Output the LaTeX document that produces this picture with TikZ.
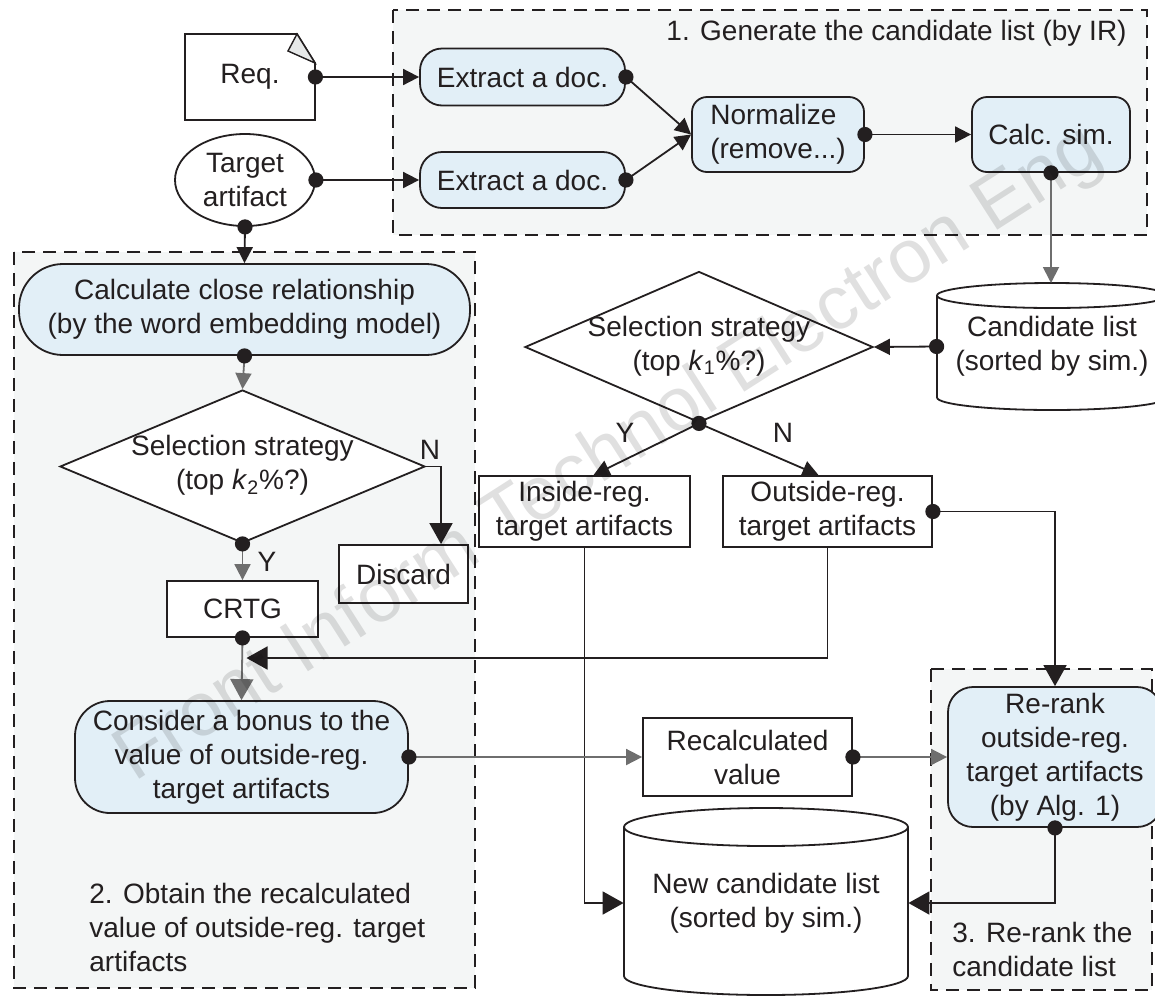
\documentclass[tikz,border=0pt]{standalone}
\usepackage{fontspec}
\setmainfont{Liberation Sans}
\usetikzlibrary{arrows.meta,shapes.geometric}
\definecolor{linec}{HTML}{231F20}
\definecolor{graylinec}{HTML}{6E6E6E}
\definecolor{boxblue}{HTML}{E2EFF7}
\definecolor{regfill}{HTML}{F4F6F6}
\definecolor{foldc}{HTML}{E6E8E8}
\newcommand\dfont{\fontsize{14}{17}\selectfont}
\tikzset{
  txt/.style={font=\dfont, text=linec, inner sep=0pt, align=center},
  box/.style={txt, draw=linec, line width=0.9pt, fill=white},
  bluebox/.style={box, fill=boxblue},
  region/.style={draw=linec, line width=0.9pt, dash pattern=on 6.5pt off 4pt, fill=regfill},
  conn/.style={draw=linec, line width=0.9pt, -{Triangle[length=8pt,width=8pt]}},
  bigconn/.style={draw=linec, line width=0.9pt, -{Triangle[length=10.5pt,width=11.5pt]}},
  grayconn/.style={conn, draw=graylinec},
  graybig/.style={bigconn, draw=graylinec},
  dotc/.style={fill=linec},
}
\begin{document}
\begin{tikzpicture}[x=0.5pt, y=-0.5pt]
\useasboundingbox (0,0) rectangle (1155,997);
\clip (0,0) rectangle (1155,997);
\fill[white] (0,0) rectangle (1155,997);

% regions
\path[region] (393,10) rectangle (1147,235);
\path[region] (14,252) rectangle (475,988);
\path[region] (931,669) rectangle (1152,990);

\node[txt, anchor=east] (t1) at (1127,33) {1. Generate the candidate list (by IR)};
\node[txt, anchor=west, align=left] (t2) at (89,927) {2. Obtain the recalculated\\value of outside-reg. target\\artifacts};
\node[txt, anchor=west, align=left] (t3) at (952,949.5) {3. Re-rank the\\candidate list};

% requirement document
\draw[line width=0.9pt, draw=linec, fill=white] (185,34) -- (297,34) -- (315,63) -- (315,120) -- (185,120) -- cycle;
\draw[line width=0.7pt, draw=linec, fill=foldc] (297,34) -- (288,51) -- (315,63) -- cycle;
\node[txt, minimum width=65pt, minimum height=43pt] (req) at (250,77) {Req.};

\node[box, ellipse, minimum width=70pt, minimum height=46pt] (target) at (245,180) {Target\\artifact};

\node[bluebox, rounded corners=11pt, minimum width=102.5pt, minimum height=28.5pt] (ex1) at (522.5,77) {Extract a doc.};
\node[bluebox, rounded corners=11pt, minimum width=102.5pt, minimum height=28pt] (ex2) at (522.5,180) {Extract a doc.};
\node[bluebox, rounded corners=7.5pt, minimum width=86pt, minimum height=37.5pt, align=left] (norm) at (778,134.5) {Normalize\\(remove...)};
\node[bluebox, rounded corners=7.5pt, minimum width=79pt, minimum height=37.5pt] (calc) at (1051,134.5) {Calc. sim.};

% candidate list cylinder
\draw[line width=0.9pt, draw=linec, fill=white] (937,295.5) -- (937,397.5) arc[start angle=180, end angle=360, x radius=57.5pt, y radius=6.25pt] -- (1167,295.5);
\draw[line width=0.9pt, draw=linec, fill=white] (1052,295.5) ellipse[x radius=57.5pt, y radius=6.25pt];
\node[txt, minimum width=115pt, minimum height=63.5pt] (cand) at (1052,346.5) {Candidate list\\(sorted by sim.)};

% decision 1
\node[box, diamond, minimum width=174pt, minimum height=75.5pt] (dia1) at (699,347) {};
\node[txt] (dia1t) at (699,346) {Selection strategy\\(top \textit{k}\textsubscript{1}\%?)};

\node[box, minimum width=105.5pt, minimum height=35.5pt] (ins) at (584.5,511.5) {Inside-reg.\\target artifacts};
\node[box, minimum width=104.5pt, minimum height=35.5pt] (outs) at (827.5,511.5) {Outside-reg.\\target artifacts};

% left column
\node[bluebox, rounded corners=22pt, minimum width=225.5pt, minimum height=45.5pt] (calcrel) at (244.5,309.5) {Calculate close relationship\\(by the word embedding model)};
\node[box, diamond, minimum width=182.5pt, minimum height=76.5pt] (dia2) at (242.5,466.5) {};
\node[txt] (dia2t) at (242.5,465.5) {Selection strategy\\(top \textit{k}\textsubscript{2}\%?)};
\node[box, minimum width=64.5pt, minimum height=29pt] (discard) at (403.5,574) {Discard};
\node[box, minimum width=75.5pt, minimum height=28pt] (crtg) at (242.5,609) {CRTG};
\node[bluebox, rounded corners=17.5pt, minimum width=166.5pt, minimum height=56pt] (consider) at (241.5,757) {Consider a bonus to the\\value of outside-reg.\\target artifacts};

\node[box, minimum width=104.5pt, minimum height=39pt] (recalc) at (747.5,757) {Recalculated\\value};
\node[bluebox, rounded corners=12.5pt, minimum width=107pt, minimum height=70pt] (rerank) at (1055,757) {Re-rank\\outside-reg.\\target artifacts\\(by Alg. 1)};

% new candidate list cylinder
\draw[line width=0.9pt, draw=linec, fill=white] (624,827) -- (624,976) arc[start angle=180, end angle=360, x radius=71pt, y radius=9.5pt] -- (908,827);
\draw[line width=0.9pt, draw=linec, fill=white] (766,827) ellipse[x radius=71pt, y radius=9.5pt];
\node[txt, minimum width=142pt, minimum height=93.5pt] (newc) at (766,903) {New candidate list\\(sorted by sim.)};

% labels
\node[txt] (ly1) at (625,433) {Y};
\node[txt] (ln1) at (783,433) {N};
\node[txt] (ln2) at (430,450) {N};
\node[txt] (ly2) at (267,562) {Y};

% connectors
\coordinate (nk) at (441,466.5);
\coordinate (jn) at (242.5,658);
\draw[conn] (req.east) -- (ex1.west);
\draw[conn] (target.east) -- (ex2.west);
\draw[conn] (ex1.east) -- (norm.west);
\draw[conn] (ex2.east) -- (norm.west);
\draw[conn] (norm.east) -- (calc.west);
\draw[grayconn] (calc.south) -- (calc.south |- 0,283);
\draw[conn] (cand.west) -- (dia1.east);
\draw[conn] (dia1.south) -- ([xshift=4.5pt]ins.north);
\draw[conn] (dia1.south) -- ([xshift=-4.5pt]outs.north);
\draw[bigconn] (outs.east) -| (rerank.north);
\draw[bigconn] (outs.south) |- ([xshift=2pt]jn);
\draw[bigconn] (ins.south) |- (newc.west);
\draw[conn] (target.south) -- (calcrel.north);
\draw[grayconn] (calcrel.south) -- (dia2.north);
\draw[grayconn] (dia2.south) -- (crtg.north);
\draw[bigconn] (dia2.east) -- (nk) -- (nk |- discard.north);
\draw[graybig] (crtg.south) -- (consider.north);
\draw[grayconn] (consider.east) -- (recalc.west);
\draw[grayconn] (recalc.east) -- (rerank.west);
\draw[bigconn] (rerank.south) |- (newc.east);

% dots
\foreach \p in {req.east, target.east, ex1.east, ex2.east, norm.east, calc.south, cand.west, dia1.south, outs.east, target.south, calcrel.south, dia2.south, crtg.south, consider.east, recalc.east, rerank.south}
  \fill[dotc] (\p) circle[radius=3.8pt];

% watermark
\node[font=\fontsize{38}{38}\selectfont, text=black, opacity=0.12, rotate=32.6] (wm) at (610,455) {Front Inform Technol Electron Eng};
\end{tikzpicture}
\end{document}
